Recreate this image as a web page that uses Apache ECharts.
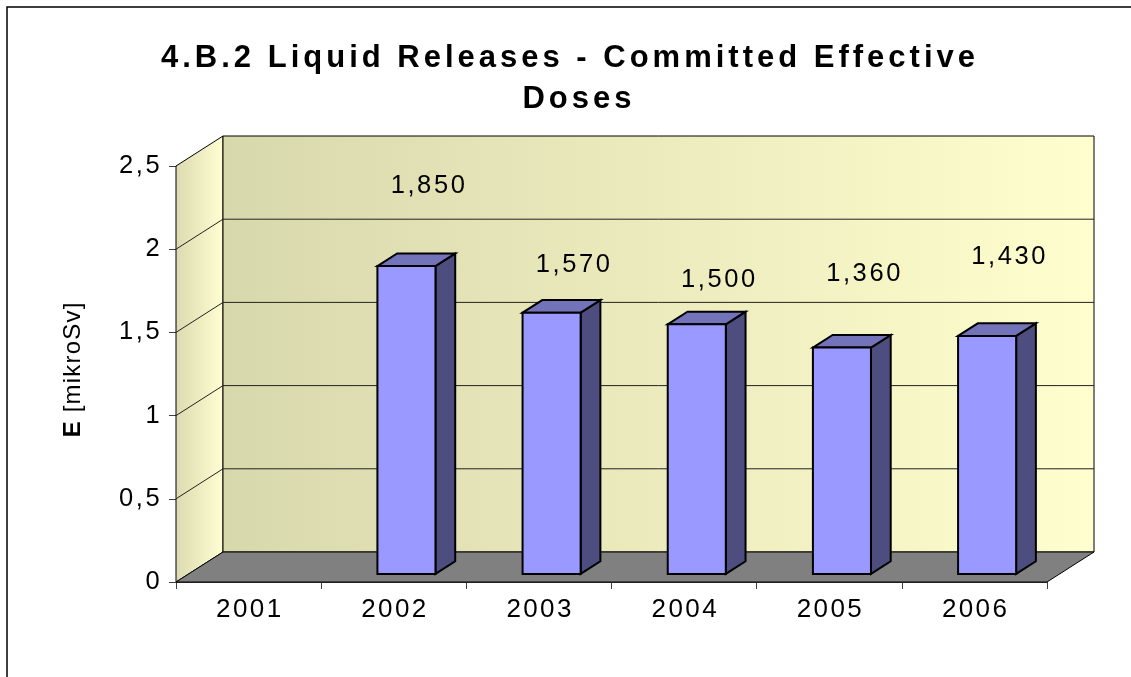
<!DOCTYPE html>
<html>
<head>
<meta charset="utf-8">
<script src="https://cdn.jsdelivr.net/npm/echarts@6/dist/echarts.min.js"></script>
<style>
  html, body { margin: 0; padding: 0; background: #ffffff; }
  #chart { width: 1131px; height: 677px; }
</style>
</head>
<body>
<div id="chart"></div>
<script>
// ---- data ----
const years = ['2001', '2002', '2003', '2004', '2005', '2006'];
const doses = [null, 1.85, 1.57, 1.50, 1.36, 1.43];   // mikroSv, no value for 2001
const yTicks = [0, 0.5, 1, 1.5, 2, 2.5];
const titleLines = ['4.B.2 Liquid Releases - Committed Effective', 'Doses'];
const yTitleBold = 'E';
const yTitleRest = ' [mikroSv]';

// ---- 3D box geometry (screen offsets of the back plane) ----
const DX = 47, DY = -30;
const BAR_FRONT = 0.27, BAR_BACK = 0.69;        // bar depth as fractions of box depth
const BAR_WIDTH = 0.4;                           // fraction of a category band
const labelRaise = [0, 88, 56, 52, 82, 87];      // value label height above bar top
const FONT = "'Liberation Sans', Arial, sans-serif";

// spread text out by wrapping each character in a padded rich token
function spaced(str, key) {
  return str.split('').map(function (c) { return '{' + key + '|' + c + '}'; }).join('');
}
function richStyle(size, weight, gap) {
  return { fontSize: size, fontWeight: weight, fontFamily: FONT, color: '#000',
           padding: [0, gap / 2, 0, gap / 2], lineHeight: Math.round(size * 1.15) };
}
function fmtValue(v) { return v.toFixed(3).replace('.', ','); }

const barData = [];
doses.forEach(function (v, i) { if (v !== null) barData.push([i, v]); });

const chart = echarts.init(document.getElementById('chart'), null, { renderer: 'canvas' });

function renderBox(params, api) {
  const cs = params.coordSys;
  const x0 = cs.x, x1 = cs.x + cs.width;
  const yb = api.coord([0, yTicks[0]])[1];
  const yt = api.coord([0, yTicks[yTicks.length - 1]])[1];
  const children = [];
  // left side wall
  children.push({
    type: 'polygon',
    shape: { points: [[x0, yb], [x0, yt], [x0 + DX, yt + DY], [x0 + DX, yb + DY]] },
    style: {
      fill: new echarts.graphic.LinearGradient(0, 0, 1, 0, [
        { offset: 0, color: '#dcdab0' }, { offset: 1, color: '#ffffd2' }]),
      stroke: '#000', lineWidth: 1
    }
  });
  // back wall
  children.push({
    type: 'rect',
    shape: { x: x0 + DX, y: yt + DY, width: x1 - x0, height: yb - yt },
    style: {
      fill: new echarts.graphic.LinearGradient(0, 0, 1, 0, [
        { offset: 0, color: '#d8d8ad' }, { offset: 1, color: '#fefece' }]),
      stroke: '#000', lineWidth: 1
    }
  });
  // floor
  children.push({
    type: 'polygon',
    shape: { points: [[x0, yb], [x1, yb], [x1 + DX, yb + DY], [x0 + DX, yb + DY]] },
    style: { fill: '#808080', stroke: '#000', lineWidth: 1 }
  });
  // grid lines running along the side and back walls
  yTicks.slice(1, -1).forEach(function (v) {
    const y = api.coord([0, v])[1];
    children.push({
      type: 'polyline',
      shape: { points: [[x0, y], [x0 + DX, y + DY], [x1 + DX, y + DY]] },
      style: { stroke: '#222', lineWidth: 1, fill: null }
    });
  });
  return { type: 'group', children: children };
}

function renderBar(params, api) {
  const i = api.value(0), v = api.value(1);
  const base = api.coord([i, 0]);
  const top = api.coord([i, v]);
  const w = api.size([1, 0])[0] * BAR_WIDTH;
  const fx = BAR_FRONT * DX, fy = BAR_FRONT * DY;
  const dx = (BAR_BACK - BAR_FRONT) * DX, dy = (BAR_BACK - BAR_FRONT) * DY;
  const L = base[0] - w / 2 + fx, R = L + w;
  const B = base[1] + fy, T = top[1] + fy;
  const edge = { stroke: '#000', lineWidth: 2, lineJoin: 'miter' };
  return {
    type: 'group',
    children: [
      { type: 'polygon', shape: { points: [[R, T], [R + dx, T + dy], [R + dx, B + dy], [R, B]] },
        style: Object.assign({ fill: '#4d4d80' }, edge) },
      { type: 'polygon', shape: { points: [[L, T], [L + dx, T + dy], [R + dx, T + dy], [R, T]] },
        style: Object.assign({ fill: '#7373ba' }, edge) },
      { type: 'rect', shape: { x: L, y: T, width: w, height: B - T },
        style: Object.assign({ fill: '#9999ff' }, edge) },
      { type: 'text', x: base[0] + 34, y: top[1] - labelRaise[i],
        style: { text: spaced(fmtValue(v), 'v'), rich: { v: richStyle(25.5, 'normal', 2.6) },
                 align: 'center', verticalAlign: 'middle',
                 textAlign: 'center', textVerticalAlign: 'middle' } }
    ]
  };
}

const option = {
  backgroundColor: '#ffffff',
  animation: false,
  grid: { left: 176, right: 84, top: 166, bottom: 95, containLabel: false },
  xAxis: {
    type: 'category',
    data: years,
    boundaryGap: true,
    axisLine: { show: true, lineStyle: { color: '#404040', width: 1 } },
    axisTick: { show: true, length: 7, lineStyle: { color: '#404040' } },
    axisLabel: {
      margin: 13,
      formatter: function (v) { return spaced(v, 'x'); },
      rich: { x: richStyle(26, 'normal', 2.4) }
    },
    splitLine: { show: false }
  },
  yAxis: {
    type: 'value',
    min: 0, max: 2.5, interval: 0.5,
    axisLine: { show: true, lineStyle: { color: '#404040', width: 1 } },
    axisTick: { show: true, length: 7, lineStyle: { color: '#404040' } },
    axisLabel: {
      margin: 15,
      formatter: function (v) { return spaced(String(v).replace('.', ','), 'y'); },
      rich: { y: richStyle(25.5, 'normal', 2.6) }
    },
    splitLine: { show: false }
  },
  graphic: [
    { type: 'rect', shape: { x: 7, y: 7, width: 1400, height: 900 },
      style: { fill: null, stroke: '#000', lineWidth: 1.5 }, z: 10 },
    { type: 'text', x: 568, y: 58,
      style: { text: spaced(titleLines[0], 't'), rich: { t: richStyle(31, 'bold', 4) },
               align: 'center', verticalAlign: 'middle' } },
    { type: 'text', x: 577, y: 99,
      style: { text: spaced(titleLines[1], 't'), rich: { t: richStyle(31, 'bold', 4) },
               align: 'center', verticalAlign: 'middle' } },
    { type: 'text', x: 73, y: 370, rotation: Math.PI / 2,
      style: { text: '{b|' + yTitleBold + '}' + spaced(yTitleRest, 'r'),
               rich: { b: richStyle(24, 'bold', 1.2), r: richStyle(24, 'normal', 1.2) },
               align: 'center', verticalAlign: 'middle' } }
  ],
  series: [
    { type: 'custom', name: 'box', renderItem: renderBox, data: [[0, 0]],
      encode: { x: 0, y: 1 }, clip: false, z: 1, silent: true },
    { type: 'custom', name: 'E', renderItem: renderBar, data: barData,
      encode: { x: 0, y: 1 }, clip: false, z: 2 }
  ]
};
chart.setOption(option);
</script>
</body>
</html>
